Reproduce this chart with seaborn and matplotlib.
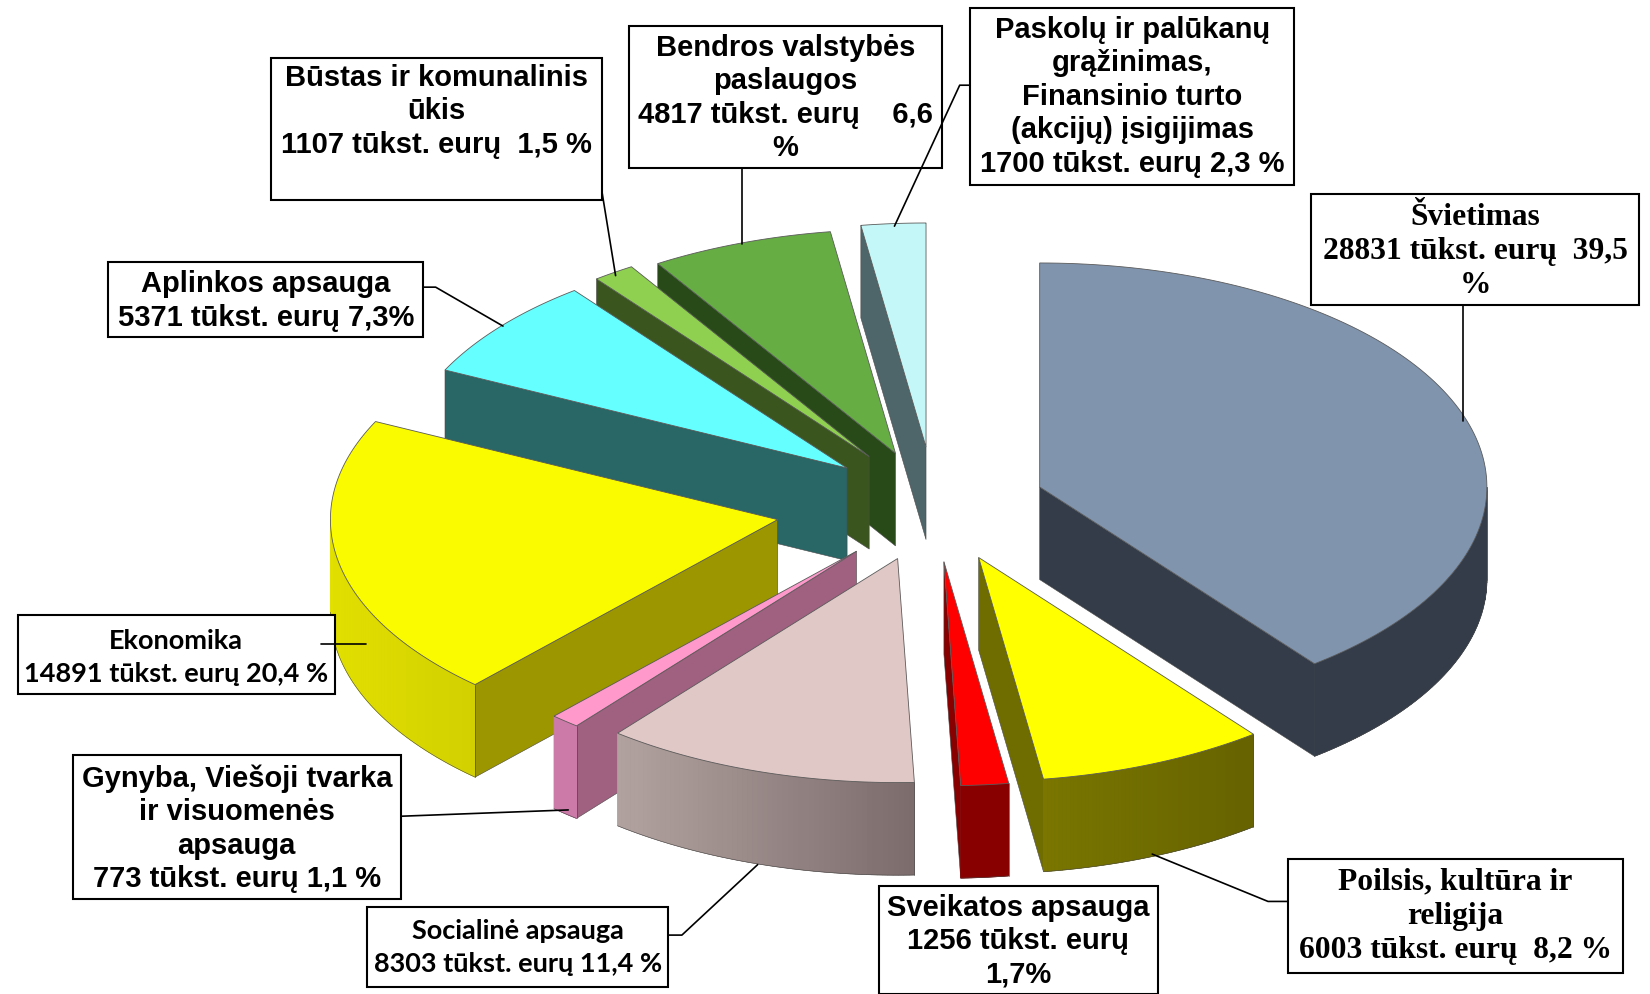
import numpy as np
import matplotlib
matplotlib.use('Agg')
import matplotlib.pyplot as plt
import seaborn as sns

# spending per category, thousand euros, clockwise from 12 o'clock
categories = ['Švietimas', 'Poilsis', 'Sveikatos', 'Socialine', 'Gynyba',
              'Ekonomika', 'Aplinkos', 'Bustas', 'Bendros', 'Paskolu']
values = [28831, 6003, 1256, 8303, 773, 14891, 5371, 1107, 4817, 1700]

label_texts = [
    'Švietimas\n28831 tūkst. eurų  39,5\n%',
    'Poilsis, kultūra ir\nreligija\n6003 tūkst. eurų  8,2 %',
    'Sveikatos apsauga\n1256 tūkst. eurų\n1,7%',
    'Socialinė apsauga\n8303 tūkst. eurų 11,4 %',
    'Gynyba, Viešoji tvarka\nir visuomenės\napsauga\n773 tūkst. eurų 1,1 %',
    'Ekonomika\n14891 tūkst. eurų 20,4 %',
    'Aplinkos apsauga\n5371 tūkst. eurų 7,3%',
    'Būstas ir komunalinis\nūkis\n1107 tūkst. eurų  1,5 %',
    'Bendros valstybės\npaslaugos\n4817 tūkst. eurų    6,6\n%',
    'Paskolų ir palūkanų\ngrąžinimas,\nFinansinio turto\n(akcijų) įsigijimas\n1700 tūkst. eurų 2,3 %',
]

# colours: top face, cut wall, outer wall left end, outer wall right end
top_colors = ['#8094ae', '#ffff00', '#ff0000', '#e0c8c6', '#ff99cc',
              '#fbfb00', '#66ffff', '#8fd050', '#66ad44', '#c4f8f8']
cut_colors = ['#333c48', '#6f6c00', '#880000', '#7c6c6c', '#a06080',
              '#9c9600', '#296666', '#3b551f', '#284a18', '#4e666a']
rim_left = ['#333c48', '#7a7600', '#880000', '#b3a3a0', '#cc7aa8',
            '#e2e000', '#296666', '#3b551f', '#284a18', '#4e666a']
rim_right = ['#333c48', '#666300', '#880000', '#7c6c6c', '#cc7aa8',
             '#d2d000', '#296666', '#3b551f', '#284a18', '#4e666a']

# layout, in the pixels of the shrunk reference
apex_x = [988, 930, 897, 853, 814, 739, 805, 826, 851, 880]
apex_y = [463, 530, 534, 531, 524, 494, 445, 434, 431, 425]
RX, RY, DEPTH = 425, 213, 88
draw_order = [9, 8, 7, 6, 0, 5, 4, 3, 2, 1]

boxes = [(1246, 184, 1558, 290), (1224, 817, 1542, 925), (835, 842, 1100, 945),
         (349, 862, 635, 938), (69, 718, 381, 855), (17, 585, 318, 660),
         (103, 249, 402, 320), (258, 55, 572, 190), (598, 25, 895, 160),
         (922, 8, 1230, 176)]
label_y = [239, 871, 895, 901, 788, 625, 286, 106, 93, 92]
leaders = [
    ([1390, 1390], [290, 400]),
    ([1224, 1205, 1095], [857, 857, 812]),
    None,
    ([635, 648, 720], [889, 889, 822]),
    ([381, 540], [776, 770]),
    ([305, 348], [612, 612]),
    ([402, 414, 478], [273, 273, 310]),
    ([572, 585], [182, 262]),
    ([705, 705], [160, 232]),
    ([922, 912, 850], [81, 81, 215]),
]
ARIAL = 'Liberation Sans'
CAMBRIA = 'Liberation Serif'
CALIBRI = 'Lato'
fonts = [(CAMBRIA, 22.7), (CAMBRIA, 22.7), (ARIAL, 21), (CALIBRI, 19.5), (ARIAL, 21),
         (CALIBRI, 19.5), (ARIAL, 21), (ARIAL, 21), (ARIAL, 21), (ARIAL, 21)]
spacing = [1.22, 1.22, 1.25, 1.45, 1.25, 1.45, 1.25, 1.25, 1.25, 1.25]

sns.set_theme(style="white")
fig, ax = plt.subplots(figsize=(16.5, 9.94), dpi=100)
fig.subplots_adjust(0, 0, 1, 1)
ax.set_xlim(0, 1568)
ax.set_ylim(945, 0)
ax.axis('off')

shares = np.array(values) / sum(values)
ends = np.cumsum(shares) * 2 * np.pi
starts = ends - shares * 2 * np.pi

edge = '#4a4a4a'
for rank, i in enumerate(draw_order):
    z = 1 + rank * 0.1
    cx, cy = apex_x[i], apex_y[i]
    # cut walls: start edge shows on the left half, end edge on the right half
    for a, side in ((starts[i], -1), (ends[i], 1)):
        if np.sin(a) * side > 1e-6:
            rx, ry = cx + RX * np.sin(a), cy - RY * np.cos(a)
            ax.fill([cx, rx, rx, cx], [cy, ry, ry + DEPTH, cy + DEPTH],
                    fc=cut_colors[i], ec=edge, lw=0.4, zorder=z)
    # outer wall, only the part that faces the viewer
    a0, a1 = max(starts[i], np.pi / 2), min(ends[i], 3 * np.pi / 2)
    if a1 > a0:
        n = 60
        pal = sns.blend_palette([rim_right[i], rim_left[i]], n)
        steps = np.linspace(a0, a1, n + 1)
        xs = cx + RX * np.sin(steps)
        ys = cy - RY * np.cos(steps)
        # solid base under the strips so no seams show
        ax.fill(np.r_[xs, xs[::-1]], np.r_[ys, ys[::-1] + DEPTH],
                fc=pal[n // 2], lw=0, zorder=z + 0.01)
        for k in range(n):
            mid = (xs[k] + xs[k + 1]) / 2
            c = pal[int((xs.max() - mid) / (xs.max() - xs.min()) * (n - 1))]
            ax.fill([xs[k], xs[k + 1], xs[k + 1], xs[k]],
                    [ys[k], ys[k + 1], ys[k + 1] + DEPTH, ys[k] + DEPTH],
                    fc=c, ec=c, lw=0.5, zorder=z + 0.02)
        ax.plot(xs, ys + DEPTH, color=edge, lw=0.4, zorder=z + 0.03)
        ax.plot([xs[0], xs[0]], [ys[0], ys[0] + DEPTH], color=edge, lw=0.5, zorder=z + 0.03)
    # top face
    t = np.linspace(starts[i], ends[i], 120)
    ax.fill(np.r_[cx, cx + RX * np.sin(t)], np.r_[cy, cy - RY * np.cos(t)],
            fc=top_colors[i], ec='#5a5a5a', lw=0.6, zorder=z + 0.05)

for i in range(len(values)):
    x0, y0, x1, y1 = boxes[i]
    ax.fill([x0, x1, x1, x0], [y0, y0, y1, y1], fc='white', ec='black', lw=1.5, zorder=3)
    if leaders[i] is not None:
        ax.plot(leaders[i][0], leaders[i][1], color='black', lw=1.2, zorder=4)
    ax.text((x0 + x1) / 2, label_y[i], label_texts[i], ha='center', va='center',
            ma='center', family=fonts[i][0], fontsize=fonts[i][1], fontweight='bold',
            color='black', linespacing=spacing[i], zorder=5)

plt.savefig('out.png', dpi=100)
